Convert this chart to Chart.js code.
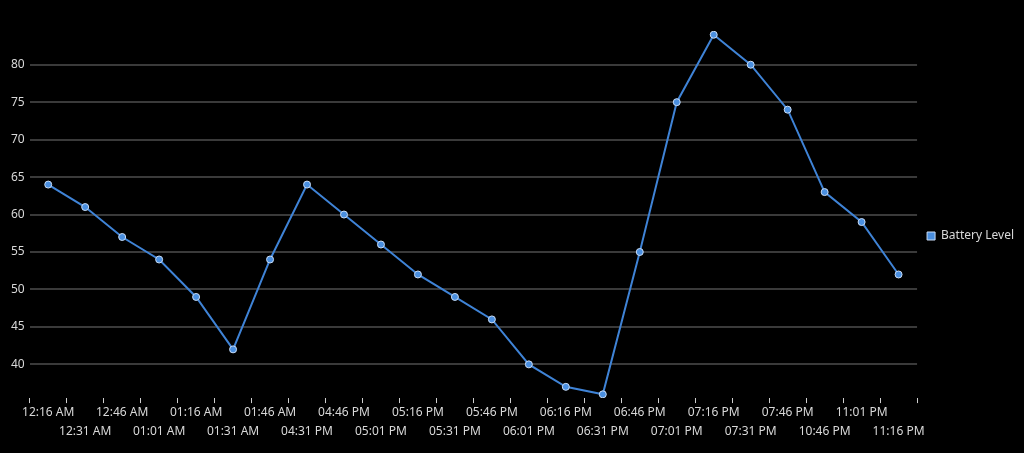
<!DOCTYPE html>
<html>
<head>
<meta charset="utf-8">
<script src="https://cdn.jsdelivr.net/npm/chart.js@4"></script>
<style>
  html, body { margin: 0; padding: 0; background: #000; }
  #wrap { width: 1024px; height: 453px; }
</style>
</head>
<body>
<div id="wrap"><canvas id="batteryChart" width="1024" height="453"></canvas></div>
<script>
// dados do gráfico
const horarios = [
    '12:16 AM', '12:31 AM', '12:46 AM', '01:01 AM', '01:16 AM', '01:31 AM',
    '01:46 AM', '04:31 PM', '04:46 PM', '05:01 PM', '05:16 PM', '05:31 PM',
    '05:46 PM', '06:01 PM', '06:16 PM', '06:31 PM', '06:46 PM', '07:01 PM',
    '07:16 PM', '07:31 PM', '07:46 PM', '10:46 PM', '11:01 PM', '11:16 PM'
];
const bateria = [64, 61, 57, 54, 49, 42, 54, 64, 60, 56, 52, 49, 46, 40, 37, 36, 55, 75, 84, 80, 74, 63, 59, 52];
const ticksY = [40, 45, 50, 55, 60, 65, 70, 75, 80];

const corTexto = '#d8d8d8';
const fonte = "'Segoe UI', 'Noto Sans', sans-serif";

// rótulos alternados em duas linhas
const rotulos = horarios.map((h, i) => i % 2 === 0 ? [h, ''] : ['', h]);

const ctx = document.getElementById('batteryChart').getContext('2d');
new Chart(ctx, {
    type: 'line',
    data: {
        labels: rotulos,
        datasets: [{
            label: 'Battery Level',
            data: bateria,
            borderColor: '#3f83d6',
            backgroundColor: '#4a90e2',
            borderWidth: 2,
            pointRadius: 3.5,
            pointBackgroundColor: '#4a8fe0',
            pointBorderColor: '#c9dcf5',
            pointBorderWidth: 1,
            tension: 0
        }]
    },
    options: {
        responsive: false,
        animation: false,
        layout: { padding: { left: 6, right: 0, top: 31, bottom: 12 } },
        plugins: {
            legend: {
                position: 'right',
                labels: {
                    color: corTexto,
                    font: { family: fonte, size: 12 },
                    boxWidth: 8,
                    boxHeight: 8,
                    padding: 10,
                    generateLabels: () => [{
                        text: 'Battery Level',
                        fillStyle: '#4a8fe0',
                        strokeStyle: '#c9dcf5',
                        lineWidth: 1,
                        fontColor: corTexto,
                        datasetIndex: 0
                    }]
                }
            },
            tooltip: { enabled: false }
        },
        scales: {
            x: {
                offset: true,
                grid: { offset: true, drawOnChartArea: false, drawTicks: true, tickLength: 5, color: '#cfcfcf' },
                border: { display: false },
                ticks: {
                    color: corTexto,
                    font: { family: fonte, size: 12, lineHeight: 1.58 },
                    autoSkip: false,
                    maxRotation: 0,
                    minRotation: 0,
                    padding: 0
                }
            },
            y: {
                min: 35.5,
                max: 84.5,
                afterBuildTicks: scale => {
                    scale.ticks = ticksY.map(v => ({ value: v }));
                },
                grid: { color: '#3a3a3a', lineWidth: 2, drawTicks: false },
                border: { display: false },
                ticks: {
                    color: corTexto,
                    font: { family: fonte, size: 12 },
                    padding: 5
                }
            }
        }
    }
});
</script>
</body>
</html>
